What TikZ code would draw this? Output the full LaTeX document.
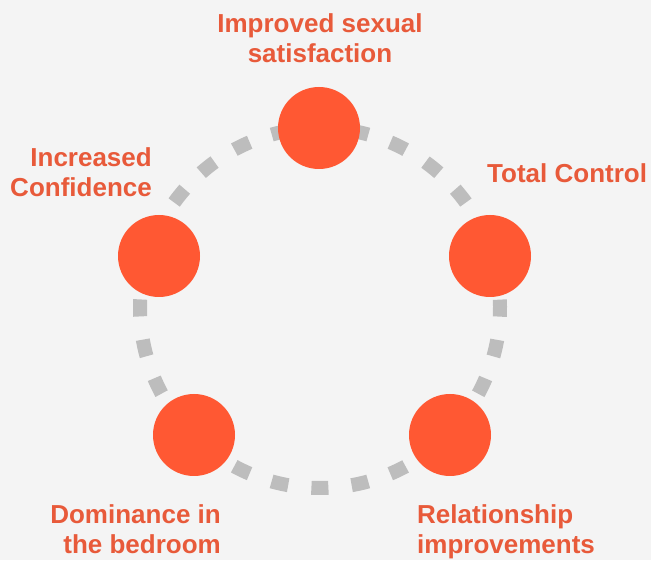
\documentclass[tikz,border=0pt]{standalone}
\usepackage{fontspec}
\setmainfont{Liberation Sans}
\definecolor{bg}{HTML}{F4F4F4}
\definecolor{dot}{HTML}{FF5833}
\definecolor{lbl}{HTML}{E85A3A}
\definecolor{ring}{HTML}{BDBDBD}
\begin{document}
\begin{tikzpicture}[x=1pt,y=1pt,
  hub/.style={circle, fill=dot, minimum size=82pt, inner sep=0pt},
  lab/.style={text=lbl, font=\fontsize{26}{30}\selectfont\bfseries, inner sep=0pt},
  ringline/.style={draw=ring, line width=14pt,
    dash pattern=on 17pt off 23.39pt, dash phase=28.7pt}]
  % background and page frame
  \fill[bg] (0,0) rectangle (651,560);
  \useasboundingbox (0,0) rectangle (651,560);

  % dashed ring behind the five hubs
  \coordinate (c) at (320,252);
  \draw[ringline] (c) ++(6.43:180) arc[start angle=6.43, end angle=366.43, radius=180];

  % hubs
  \node[hub] (t)  at (319,432) {};
  \node[hub] (r)  at (490,304) {};
  \node[hub] (br) at (450,125) {};
  \node[hub] (bl) at (194,125) {};
  \node[hub] (l)  at (159,304) {};

  % labels (base anchor sits on the last line)
  \node[lab, anchor=base, align=center] (tl) at (320,497) {Improved sexual\\satisfaction};
  \node[lab, anchor=base east, align=right] (ll) at (152,363) {Increased\\Confidence};
  \node[lab, anchor=base west] (rl) at (487,377) {Total Control};
  \node[lab, anchor=base east, align=right] (bll) at (221,6) {Dominance in\\the bedroom};
  \node[lab, anchor=base west, align=left] (brl) at (417,7) {Relationship\\improvements};
\end{tikzpicture}
\end{document}
